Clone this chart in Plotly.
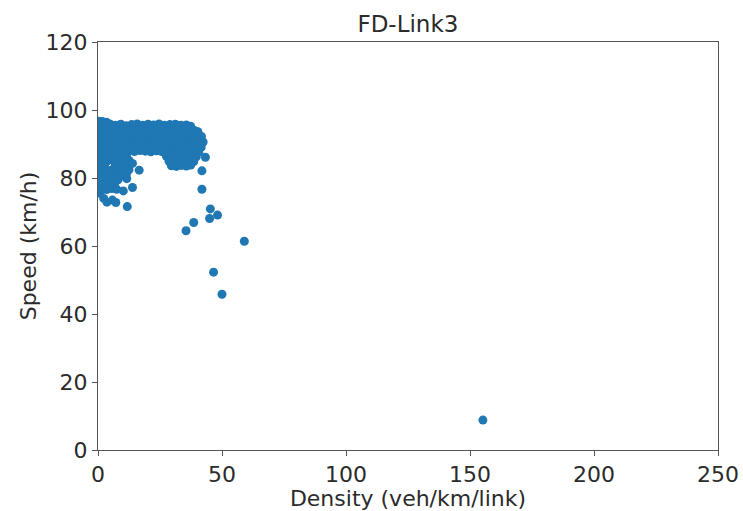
import plotly.graph_objects as go

# Dense free-flow cluster (density veh/km/link, speed km/h), read row by row
core_density = [
    0.3, 1.8, 3.4,
    0.4, 2.6, 4.8, 7.0, 9.2, 11.4, 13.6, 15.8, 18.0, 20.2, 22.4, 24.6, 26.8, 29.0, 31.2, 33.4, 35.6, 37.4,
    1.5, 3.7, 5.9, 8.1, 10.3, 12.5, 14.7, 16.9, 19.1, 21.3, 23.5, 25.7, 27.9, 30.1, 32.3, 34.5, 36.7, 38.9, 40.3,
    0.4, 2.6, 4.8, 7.0, 9.2, 11.4, 13.6, 15.8, 18.0, 20.2, 22.4, 24.6, 26.8, 29.0, 31.2, 33.4, 35.6, 37.8, 39.9, 41.7,
    1.5, 3.7, 5.9, 8.1, 10.3, 12.5, 14.7, 16.9, 19.1, 21.3, 23.5, 25.7, 27.9, 30.1, 32.3, 34.5, 36.7, 38.9, 41.0, 42.4,
    0.4, 2.6, 4.8, 7.0, 9.2, 11.4, 13.6, 15.8, 18.0, 20.2, 22.4, 24.6, 26.8, 29.0, 31.2, 33.4, 35.6, 37.8, 39.9, 41.6,
    1.5, 3.7, 5.9, 8.1, 10.3, 12.5, 14.7, 16.9, 19.1, 21.3, 23.5, 25.7, 27.9, 30.1, 32.3, 34.5, 36.7, 38.9, 40.6,
    0.4, 2.6, 4.8, 7.0, 9.2, 11.4, 27.6, 29.6, 31.6, 33.6, 35.6, 37.6, 39.6,
    1.5, 3.7, 6.0, 8.1, 10.3, 12.5, 28.6, 30.6, 32.6, 34.6, 36.6, 38.6,
    0.4, 2.6, 7.0, 9.2, 11.4, 13.9, 29.6, 31.6, 33.6, 35.6, 37.4,
    1.5, 3.7, 5.9, 8.1, 10.3, 12.5, 16.6,
    0.4, 2.6, 4.8, 7.0, 9.2, 11.4,
    1.5, 3.7, 5.9, 8.1, 11.6,
    0.4, 2.6, 4.8, 6.6, 13.9,
    1.5, 3.5, 5.5, 7.5, 10.2,
    0.8, 2.3, 5.8, 7.2, 11.8, 3.6,
]
core_speed = [
    96.7, 96.6, 96.4,
    95.8, 95.6, 95.9, 95.5, 95.8, 95.4, 95.7, 95.9, 95.5, 95.8, 95.6, 95.9, 95.5, 95.7, 95.8, 95.5, 95.6, 95.2,
    94.2, 94.0, 94.3, 93.9, 94.2, 94.0, 94.3, 94.1, 93.9, 94.2, 94.0, 94.3, 94.1, 93.9, 94.2, 94.0, 94.3, 94.0, 93.6,
    92.6, 92.4, 92.7, 92.5, 92.3, 92.6, 92.4, 92.7, 92.5, 92.3, 92.6, 92.4, 92.7, 92.5, 92.3, 92.6, 92.4, 92.7, 92.5, 92.2,
    91.0, 90.8, 91.1, 90.9, 90.7, 91.0, 90.8, 91.1, 90.9, 90.7, 91.0, 90.8, 91.1, 90.9, 90.7, 91.0, 90.8, 91.1, 90.9, 90.6,
    89.4, 89.2, 89.5, 89.3, 89.1, 89.4, 89.2, 89.5, 89.3, 89.1, 89.4, 89.2, 89.5, 89.3, 89.1, 89.4, 89.2, 89.5, 89.3, 89.0,
    88.0, 87.8, 88.1, 87.9, 87.7, 88.0, 87.8, 88.1, 87.9, 87.7, 88.0, 87.8, 88.1, 87.9, 87.7, 88.0, 87.8, 88.1, 87.6,
    86.6, 86.4, 86.7, 86.5, 86.3, 86.6, 86.4, 86.7, 86.5, 86.3, 86.6, 86.4, 86.2,
    85.2, 85.0, 85.3, 85.1, 84.9, 85.2, 85.0, 85.3, 85.1, 84.9, 85.2, 84.8,
    83.8, 83.6, 83.9, 83.7, 83.5, 84.3, 83.6, 83.4, 83.7, 83.5, 83.8,
    82.4, 82.2, 82.5, 82.3, 82.1, 82.4, 82.3,
    81.0, 80.8, 81.1, 80.9, 80.7, 81.0,
    79.6, 79.4, 79.7, 79.5, 79.8,
    78.2, 78.0, 78.3, 78.1, 77.2,
    76.8, 76.6, 76.9, 76.7, 76.2,
    75.5, 74.0, 73.5, 72.8, 71.6, 72.9,
]

# Scattered congested points
outlier_density = [43.3, 41.9, 41.9, 45.3, 48.2, 45.0, 38.6, 35.5, 59.0, 46.6, 50.0, 155.2]
outlier_speed = [86.1, 82.1, 76.7, 70.9, 69.1, 68.1, 66.9, 64.5, 61.4, 52.3, 45.8, 8.8]

x_ticks = [0, 50, 100, 150, 200, 250]
y_ticks = [0, 20, 40, 60, 80, 100, 120]

assert len(core_density) == len(core_speed)

density = core_density + outlier_density
speed = core_speed + outlier_speed

fig = go.Figure()
fig.add_trace(go.Scatter(
    x=density, y=speed, mode="markers",
    marker=dict(color="#1f77b4", size=9, line=dict(width=0)),
    showlegend=False,
))

font = "DejaVu Sans, sans-serif"
txt = "#2b2b2b"
axis_common = dict(
    showgrid=False, zeroline=False, showline=True, mirror=True, automargin=False,
    linecolor="#555555", linewidth=1, ticks="outside", ticklen=5,
    tickcolor="#555555", tickfont=dict(family=font, size=22, color=txt),
)

fig.update_layout(
    width=743, height=511,
    margin=dict(l=97.5, r=25, t=42, b=61),
    paper_bgcolor="white", plot_bgcolor="white",
    title=dict(text="FD-Link3", x=0.549, xanchor="center", y=0.953, yanchor="middle",
               font=dict(family=font, size=23, color=txt)),
    xaxis=dict(range=[0, 250], tickvals=x_ticks,
               title=dict(text="Density (veh/km/link)", standoff=1,
                          font=dict(family=font, size=22, color=txt)),
               **axis_common),
    yaxis=dict(range=[0, 120], tickvals=y_ticks,
               title=dict(text="Speed (km/h)", standoff=2,
                          font=dict(family=font, size=22, color=txt)),
               **axis_common),
)

fig.write_html(
    "out.html",
    config={"displayModeBar": False},
    post_script="document.body.style.margin='0';document.body.style.overflow='hidden';",
)
